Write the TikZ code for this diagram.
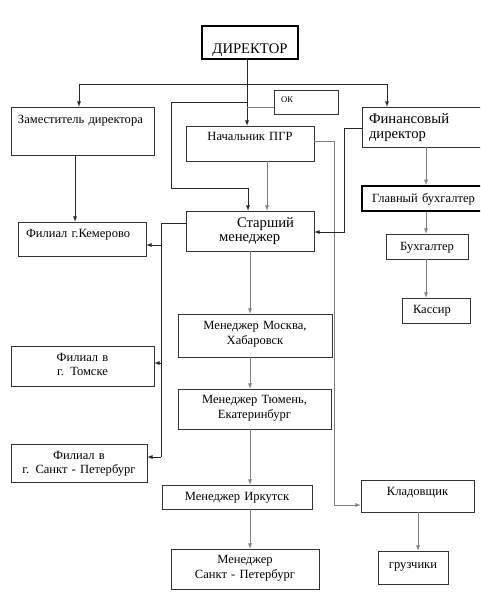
\documentclass[tikz,border=0pt]{standalone}
\usepackage{fontspec}
\setmainfont{Liberation Serif}
\usetikzlibrary{arrows}
\hyphenpenalty=10000

\tikzset{
  box/.style={draw=black!80,thin,inner sep=0pt,align=center,font=\fontsize{9.4}{11.25}\selectfont},
  lbox/.style={box,align=left},
  thickbox/.style={line width=1.5pt,draw=black},
  line/.style={draw=black!85,thin},
  gline/.style={draw=black!50,thin},
  arr/.style={line,-latex},
  garr/.style={gline,-latex}
}

\begin{document}
\begin{tikzpicture}[x=0.75pt,y=-0.75pt]
\useasboundingbox (0,0) rectangle (480,596);
\clip (0,0) rectangle (480,596);

% boxes
\node[box,thickbox,font=\fontsize{11}{12}\selectfont,text width=72pt,text height=20.6pt,text depth=4.1pt] (dir) at (250,42.5) {ДИРЕКТОР};
\node[lbox,font=\fontsize{6.5}{7}\selectfont,text width=48pt,text height=9pt,text depth=9pt] (ok) at (306,102) {\hspace*{5.25pt}ОК};
\node[lbox,text width=107.25pt,text height=12pt,text depth=24pt] (zam) at (82.5,131) {\hspace*{5.25pt}Заместитель директора};
\node[box,text width=96pt,text height=10.5pt,text depth=15.75pt] (nach) at (250,143.5) {Начальник ПГР};
\node[lbox,font=\fontsize{11}{11.25}\selectfont,text width=93pt,text height=12pt,text depth=18pt] (fin) at (424,127) {\hspace*{5.25pt}Финансовый\\\hspace*{5.25pt}директор};
\node[lbox,thickbox,text width=93pt,text height=12pt,text depth=6.75pt] (glav) at (424,198.5) {\hspace*{7.5pt}Главный бухгалтер};
\node[box,text width=61.5pt,text height=12pt,text depth=6.75pt] (buh) at (427,246.5) {Бухгалтер};
\node[lbox,text width=51pt,text height=11.25pt,text depth=7.5pt] (kas) at (436,310.5) {\hspace*{8.25pt}Кассир};
\node[lbox,font=\fontsize{11}{11}\selectfont,text width=96pt,text height=12pt,text depth=18pt] (star) at (250,231) {\hspace*{38.25pt}Старший\\\hspace*{24.75pt}менеджер};
\node[lbox,text width=96pt,text height=11.25pt,text depth=14.25pt] (kem) at (82,239) {\hspace*{6pt}Филиал г.Кемерово};
\node[box,font=\fontsize{9.4}{10.5}\selectfont,text width=107.25pt,text height=11.25pt,text depth=18.75pt] (tom) at (82.5,366) {Филиал в\\г. Томске};
\node[box,font=\fontsize{9.4}{10.5}\selectfont,text width=102pt,text height=11.25pt,text depth=17.25pt] (spbf) at (79,463) {Филиал в\\г. Санкт - Петербург};
\node[box,text width=115.5pt,text height=11.25pt,text depth=21pt] (mos) at (255,335.5) {Менеджер Москва,\\Хабаровск};
\node[box,text width=114.75pt,text height=10.5pt,text depth=19.5pt] (tyu) at (254.5,409) {Менеджер Тюмень,\\Екатеринбург};
\node[box,text width=112.5pt,text height=11.25pt,text depth=6.75pt] (irk) at (237,497) {Менеджер Иркутск};
\node[box,text width=111pt,text height=10.5pt,text depth=19.5pt] (spbm) at (245,569) {Менеджер\\Санкт - Петербург};
\node[box,text width=84.75pt,text height=11.25pt,text depth=12.75pt] (klad) at (417.5,496) {Кладовщик};
\node[box,text width=52.5pt,text height=12.75pt,text depth=12pt] (gruz) at (413,567.5) {грузчики};

% where the lines run
\coordinate (jt) at (247,84);
\coordinate (x79) at (79,0);
\coordinate (x387) at (387,0);
\coordinate (x171) at (171,0);
\coordinate (x248) at (248,0);
\coordinate (x267) at (267,0);
\coordinate (x334) at (334,0);
\coordinate (x344) at (344,0);
\coordinate (x426) at (426,0);
\coordinate (x75) at (75,0);
\coordinate (x161) at (161,0);
\coordinate (x250) at (250,0);
\coordinate (x418) at (418,0);
\coordinate (y102) at (0,102);
\coordinate (y107) at (0,107);
\coordinate (y188) at (0,188);
\coordinate (y141) at (0,141);
\coordinate (y505) at (0,505);
\coordinate (y128) at (0,128);
\coordinate (y232) at (0,232);
\coordinate (y223) at (0,223);
\coordinate (y245) at (0,245);
\coordinate (y363) at (0,363);
\coordinate (y457) at (0,457);

% director
\draw[line] (jt |- dir.south) -- (jt);
\draw[arr] (jt) -| (x79 |- zam.north);
\draw[arr] (jt) -| (x387 |- fin.north);
\draw[arr] (jt) -- (jt |- nach.north);
\draw[gline] (ok.west |- y107) -- (jt |- y107);
\draw[arr] (jt |- y102) -| (x171 |- y188) -| (x248 |- star.north);

% nach, fin
\draw[garr] (x267 |- nach.south) -- (x267 |- star.north);
\draw[garr] (nach.east |- y141) -| (x334 |- y505) -- (klad.west |- y505);
\draw[arr] (fin.west |- y128) -| (x344 |- y232) -- (star.east |- y232);
\draw[garr] (x426 |- fin.south) -- (x426 |- glav.north);
\draw[garr] (x426 |- glav.south) -- (x426 |- buh.north);
\draw[garr] (x426 |- buh.south) -- (x426 |- kas.north);
\draw[garr] (x418 |- klad.south) -- (x418 |- gruz.north);

% left side
\draw[arr] (x75 |- zam.south) -- (x75 |- kem.north);
\draw[line] (star.west |- y223) -| (x161 |- y457);
\draw[arr] (x161 |- y245) -- (kem.east |- y245);
\draw[arr] (x161 |- y363) -- (tom.east |- y363);
\draw[arr] (x161 |- y457) -- (spbf.east |- y457);

% managers
\draw[garr] (x250 |- star.south) -- (x250 |- mos.north);
\draw[garr] (x250 |- mos.south) -- (x250 |- tyu.north);
\draw[garr] (x250 |- tyu.south) -- (x250 |- irk.north);
\draw[garr] (x250 |- irk.south) -- (x250 |- spbm.north);

\end{tikzpicture}
\end{document}
